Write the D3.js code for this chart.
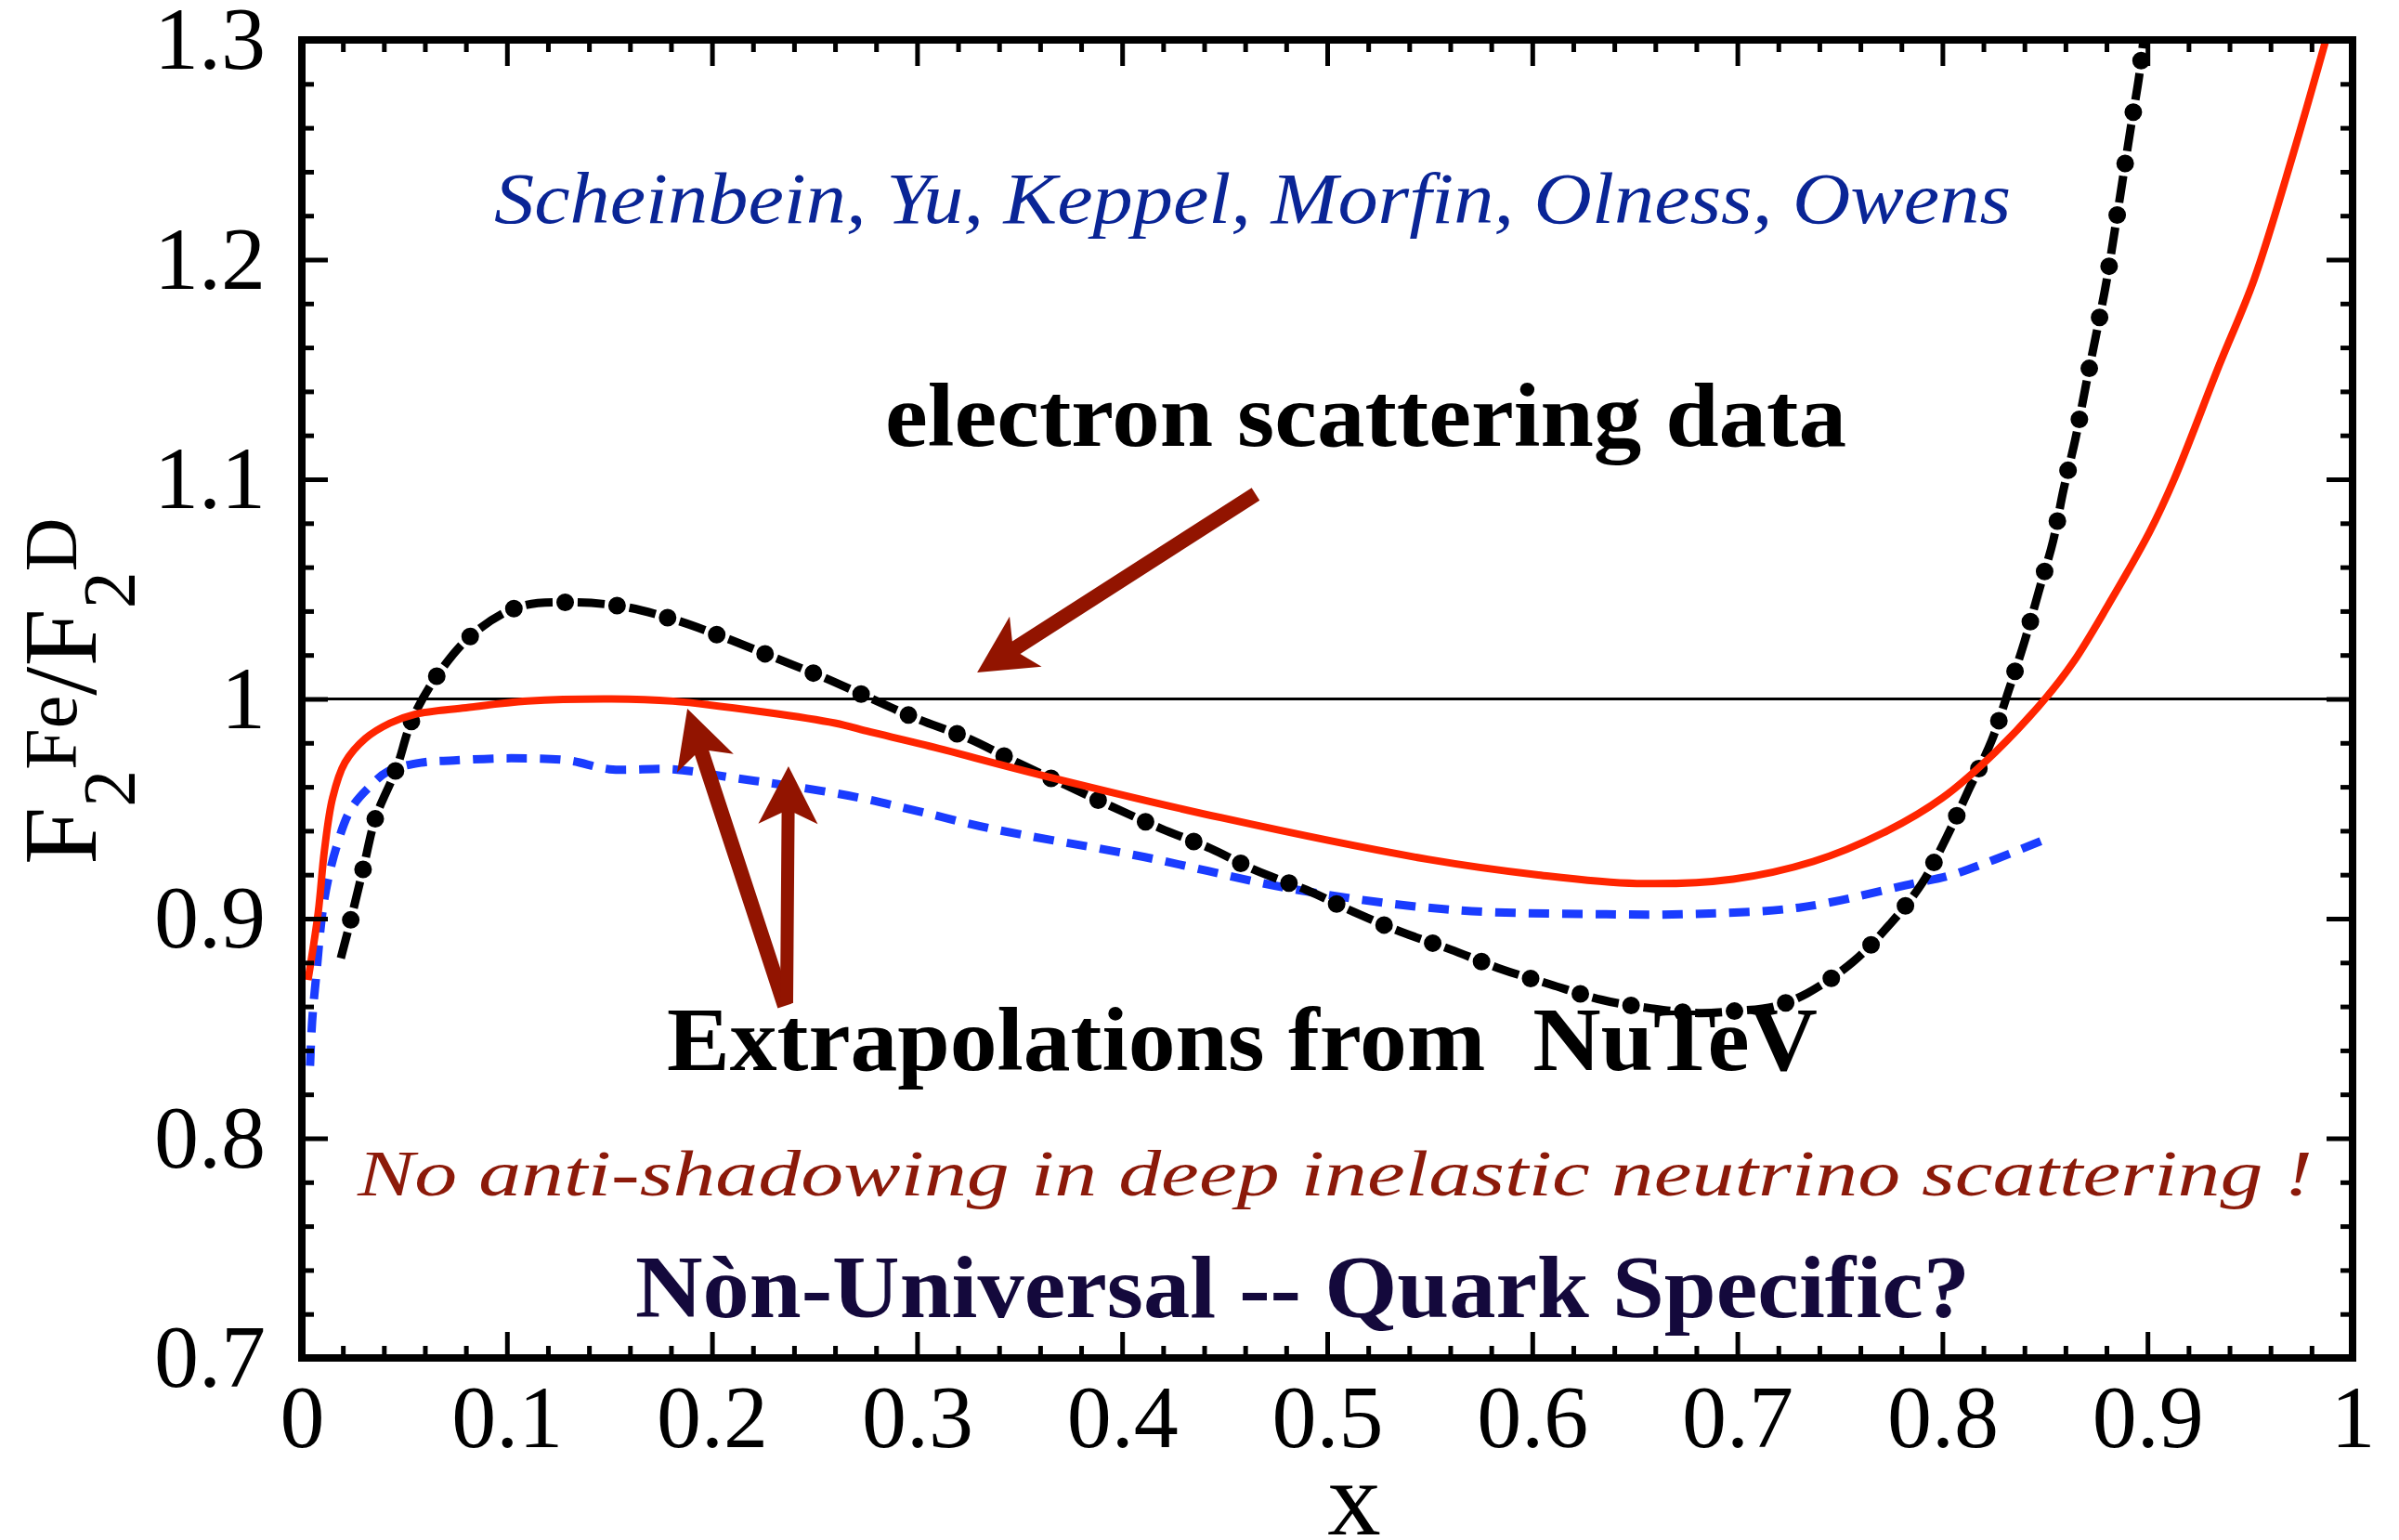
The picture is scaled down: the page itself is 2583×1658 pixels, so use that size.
<!DOCTYPE html>
<html>
<head>
<meta charset="utf-8">
<script src="https://cdn.jsdelivr.net/npm/d3@7"></script>
<style>
    body { margin: 0; background: #fff; }
    .annot { white-space: pre; }
</style>
</head>
<body>
<div id="chart-area"></div>
<script>

// values (x, F2Fe/F2D)
let redX = [0.003, 0.008, 0.011, 0.015, 0.021, 0.031, 0.043, 0.055, 0.080, 0.110, 0.151, 0.181, 0.226, 0.260, 0.277,
    0.304, 0.362, 0.448, 0.549, 0.602, 0.651, 0.698, 0.737, 0.771, 0.800, 0.826, 0.850, 0.864, 0.881, 0.901,
    0.913, 0.935, 0.952, 0.971, 0.987];
let redY = [0.872, 0.903, 0.931, 0.955, 0.971, 0.982, 0.989, 0.993, 0.996, 0.999, 1.000, 0.999, 0.994, 0.989, 0.985,
    0.979, 0.965, 0.946, 0.927, 0.920, 0.916, 0.918, 0.926, 0.939, 0.955, 0.976, 1.000, 1.017, 1.043, 1.076,
    1.100, 1.152, 1.191, 1.248, 1.300];

let blueX = [0.004, 0.005, 0.007, 0.011, 0.017, 0.024, 0.033, 0.042, 0.058, 0.074, 0.102, 0.130, 0.150, 0.181,
    0.211, 0.241, 0.272, 0.300, 0.336, 0.411, 0.486, 0.561, 0.636, 0.673, 0.730, 0.786, 0.805, 0.850];
let blueY = [0.833, 0.853, 0.874, 0.909, 0.933, 0.950, 0.960, 0.967, 0.971, 0.972, 0.973, 0.972, 0.968, 0.968,
    0.964, 0.960, 0.955, 0.949, 0.941, 0.928, 0.913, 0.904, 0.902, 0.902, 0.905, 0.916, 0.920, 0.936];

let blackX = [0.019, 0.024, 0.030, 0.036, 0.046, 0.054, 0.067, 0.084, 0.106, 0.131, 0.157, 0.182, 0.206, 0.230,
    0.254, 0.278, 0.300, 0.325, 0.349, 0.372, 0.395, 0.419, 0.443, 0.465, 0.490, 0.513, 0.536, 0.560, 0.585,
    0.609, 0.634, 0.659, 0.681, 0.700, 0.718, 0.734, 0.756, 0.774, 0.790, 0.802, 0.813, 0.824, 0.832, 0.840,
    0.847, 0.854, 0.859, 0.865, 0.870, 0.875, 0.880, 0.884, 0.888, 0.892, 0.896, 0.898];
let blackY = [0.882, 0.900, 0.923, 0.946, 0.968, 0.991, 1.012, 1.030, 1.042, 1.044, 1.042, 1.036, 1.028, 1.019,
    1.010, 1.000, 0.991, 0.982, 0.971, 0.961, 0.951, 0.941, 0.932, 0.922, 0.913, 0.903, 0.894, 0.886, 0.877,
    0.870, 0.863, 0.859, 0.857, 0.858, 0.860, 0.866, 0.880, 0.897, 0.916, 0.937, 0.959, 0.981, 1.003, 1.026,
    1.049, 1.072, 1.095, 1.119, 1.143, 1.166, 1.190, 1.213, 1.237, 1.261, 1.284, 1.300];

let xTicks = [0, 0.1, 0.2, 0.3, 0.4, 0.5, 0.6, 0.7, 0.8, 0.9, 1];
let xTickLabels = ["0", "0.1", "0.2", "0.3", "0.4", "0.5", "0.6", "0.7", "0.8", "0.9", "1"];
let yTicks = [0.7, 0.8, 0.9, 1.0, 1.1, 1.2, 1.3];
let yTickLabels = ["0.7", "0.8", "0.9", "1", "1.1", "1.2", "1.3"];


class RatioChart {
    constructor(_parentElement) {
        this.parentElement = _parentElement;

        this.initVis();
    }

    initVis() {
        let vis = this;

        vis.margin = {top: 43, right: 50, bottom: 196, left: 325};
        vis.width = 2208;
        vis.height = 1419;

        vis.root = d3.select("#" + vis.parentElement).append("svg")
            .attr("width", 2583)
            .attr("height", 1658);

        vis.svg = vis.root.append("g")
            .attr("transform", "translate(" + vis.margin.left + "," + vis.margin.top + ")");

        vis.x = d3.scaleLinear().domain([0, 1]).range([0, vis.width]);
        vis.y = d3.scaleLinear().domain([0.7, 1.3]).range([vis.height, 0]);

        vis.svg.append("clipPath").attr("id", "plot-clip")
            .append("rect")
            .attr("width", vis.width)
            .attr("height", vis.height);

        // minor ticks every 0.02
        vis.xMinor = d3.range(0, 1.0001, 0.02).filter(d => Math.abs(d * 10 - Math.round(d * 10)) > 1e-6);
        vis.yMinor = d3.range(0.7, 1.3001, 0.02).filter(d => Math.abs(d * 10 - Math.round(d * 10)) > 1e-6);

        vis.wrangleData();
    }

    wrangleData() {
        let vis = this;

        vis.series = {
            red: redX.map((d, i) => ({x: d, y: redY[i]})),
            blue: blueX.map((d, i) => ({x: d, y: blueY[i]})),
            black: blackX.map((d, i) => ({x: d, y: blackY[i]}))
        };

        vis.updateVis();
    }

    updateVis() {
        let vis = this;

        // reference line at 1
        vis.svg.append("line")
            .attr("x1", 0).attr("x2", vis.width)
            .attr("y1", vis.y(1)).attr("y2", vis.y(1))
            .attr("stroke", "black")
            .attr("stroke-width", 3);

        let line = d3.line()
            .x(d => vis.x(d.x))
            .y(d => vis.y(d.y))
            .curve(d3.curveCatmullRom.alpha(0.5));

        let curves = vis.svg.append("g").attr("clip-path", "url(#plot-clip)");

        curves.append("path")
            .datum(vis.series.blue)
            .attr("d", line)
            .attr("fill", "none")
            .attr("stroke", "#1a3cff")
            .attr("stroke-width", 9)
            .attr("stroke-dasharray", "22 14");

        // electron data: dashes + dots
        curves.append("path")
            .datum(vis.series.black)
            .attr("d", line)
            .attr("fill", "none")
            .attr("stroke", "black")
            .attr("stroke-width", 9)
            .attr("stroke-dasharray", "29 27");
        curves.append("path")
            .datum(vis.series.black)
            .attr("d", line)
            .attr("fill", "none")
            .attr("stroke", "black")
            .attr("stroke-width", 19)
            .attr("stroke-linecap", "round")
            .attr("stroke-dasharray", "0 56")
            .attr("stroke-dashoffset", 13.5);

        curves.append("path")
            .datum(vis.series.red)
            .attr("d", line)
            .attr("fill", "none")
            .attr("stroke", "#ff2500")
            .attr("stroke-width", 8)
            .attr("stroke-linejoin", "round");

        // axes, ticks pointing inward on all four sides
        let fmtX = (d, i) => xTickLabels[i];
        let fmtY = (d, i) => yTickLabels[i];

        vis.svg.append("g").attr("class", "axis")
            .attr("transform", "translate(0," + vis.height + ")")
            .call(d3.axisBottom(vis.x).tickValues(xTicks).tickFormat(fmtX).tickSize(-28).tickPadding(28));
        vis.svg.append("g").attr("class", "axis")
            .attr("transform", "translate(0," + vis.height + ")")
            .call(d3.axisBottom(vis.x).tickValues(vis.xMinor).tickFormat("").tickSize(-13));
        vis.svg.append("g").attr("class", "axis")
            .call(d3.axisTop(vis.x).tickValues(xTicks).tickFormat("").tickSize(-28));
        vis.svg.append("g").attr("class", "axis")
            .call(d3.axisTop(vis.x).tickValues(vis.xMinor).tickFormat("").tickSize(-13));

        vis.svg.append("g").attr("class", "axis")
            .call(d3.axisLeft(vis.y).tickValues(yTicks).tickFormat(fmtY).tickSize(-28).tickPadding(39));
        vis.svg.append("g").attr("class", "axis")
            .call(d3.axisLeft(vis.y).tickValues(vis.yMinor).tickFormat("").tickSize(-13));
        vis.svg.append("g").attr("class", "axis")
            .attr("transform", "translate(" + vis.width + ",0)")
            .call(d3.axisRight(vis.y).tickValues(yTicks).tickFormat("").tickSize(-28));
        vis.svg.append("g").attr("class", "axis")
            .attr("transform", "translate(" + vis.width + ",0)")
            .call(d3.axisRight(vis.y).tickValues(vis.yMinor).tickFormat("").tickSize(-13));

        vis.svg.selectAll(".axis .domain").remove();
        vis.svg.selectAll(".axis line").attr("stroke", "black").attr("stroke-width", 5);
        vis.svg.selectAll(".axis text")
            .attr("font-family", "'Liberation Serif', 'Times New Roman', serif")
            .attr("font-size", 96)
            .attr("fill", "black");

        // frame
        vis.svg.append("rect")
            .attr("width", vis.width)
            .attr("height", vis.height)
            .attr("fill", "none")
            .attr("stroke", "black")
            .attr("stroke-width", 8);

        // arrows (in data units)
        let arrows = [
            {from: [0.4651, 1.0932], to: [0.3293, 1.012], w: 16},
            {from: [0.2355, 0.8603], to: [0.188, 0.9956], w: 16},
            {from: [0.2364, 0.8615], to: [0.2373, 0.9693], w: 14}
        ];
        arrows.forEach(a => {
            let x0 = vis.x(a.from[0]), y0 = vis.y(a.from[1]);
            let x1 = vis.x(a.to[0]), y1 = vis.y(a.to[1]);
            let L = Math.hypot(x1 - x0, y1 - y0);
            let ang = Math.atan2(y1 - y0, x1 - x0) * 180 / Math.PI;
            let hw = a.w / 2;
            let pts = [[0, -hw], [L - 50, -hw], [L - 62, -32], [L, 0], [L - 62, 32], [L - 50, hw], [0, hw]];
            vis.svg.append("polygon")
                .attr("points", pts.map(p => p.join(",")).join(" "))
                .attr("transform", "translate(" + x0 + "," + y0 + ") rotate(" + ang + ")")
                .attr("fill", "#921400");
        });

        // axis titles
        let yLab = vis.root.append("text")
            .attr("transform", "translate(103,931) rotate(-90)")
            .attr("font-family", "'Liberation Serif', 'Times New Roman', serif")
            .attr("font-size", 112)
            .attr("fill", "black");
        yLab.append("tspan").text("F");
        yLab.append("tspan").attr("font-size", 80).attr("dy", 42).text("2");
        yLab.append("tspan").attr("font-size", 80).attr("dy", -63).text("Fe");
        yLab.append("tspan").attr("dy", 21).text("/F");
        yLab.append("tspan").attr("font-size", 80).attr("dy", 42).text("2");
        yLab.append("tspan").attr("font-size", 80).attr("dy", -63).text("D");

        vis.root.append("text")
            .attr("x", 1458).attr("y", 1652)
            .attr("text-anchor", "middle")
            .attr("font-family", "'Liberation Serif', 'Times New Roman', serif")
            .attr("font-size", 115)
            .text("x");

        // annotations
        let notes = [
            {t: "Scheinbein, Yu, Keppel, Morfin, Olness, Owens", x: 532, y: 240, len: 1633, size: 78, style: "italic", weight: "normal", color: "#0a2596"},
            {t: "electron scattering data", x: 953, y: 480, len: 1035, size: 98, style: "normal", weight: "bold", color: "black"},
            {t: "Extrapolations from  NuTeV", x: 718, y: 1152, len: 1239, size: 97, style: "normal", weight: "bold", color: "black"},
            {t: "No anti-shadowing in deep inelastic neutrino scattering !", x: 385, y: 1287, len: 2105, size: 70, style: "italic", weight: "normal", color: "#8c1a0a"},
            {t: "Nòn-Universal -- Quark Specific?", x: 684, y: 1418, len: 1437, size: 95, style: "normal", weight: "bold", color: "#14093c"}
        ];
        vis.root.selectAll(".annot")
            .data(notes)
            .enter()
            .append("text")
            .attr("class", "annot")
            .attr("x", d => d.x)
            .attr("y", d => d.y)
            .attr("textLength", d => d.len)
            .attr("lengthAdjust", "spacingAndGlyphs")
            .attr("font-family", "'Liberation Serif', 'Times New Roman', serif")
            .attr("font-size", d => d.size)
            .attr("font-style", d => d.style)
            .attr("font-weight", d => d.weight)
            .attr("fill", d => d.color)
            .text(d => d.t);
    }
}

let chart = new RatioChart("chart-area");
</script>
</body>
</html>
